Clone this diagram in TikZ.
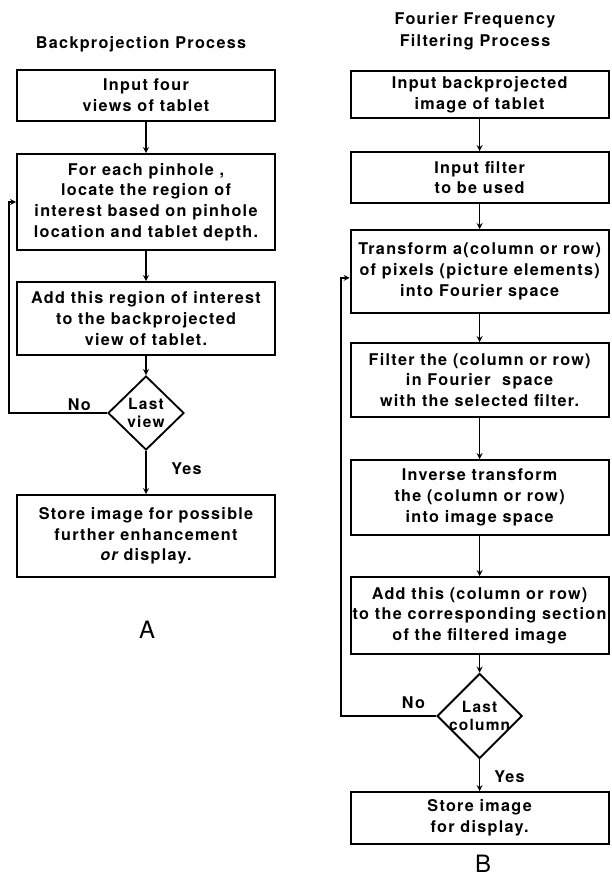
\documentclass[tikz,border=0pt]{standalone}
\usepackage{fontspec}
\setmainfont{TeX Gyre Heros}
\newfontfamily\flowfont{TeX Gyre Heros}[LetterSpace=8]
\usetikzlibrary{shapes.geometric,positioning}
\tikzstyle{stepbox} = [rectangle, minimum width=6.45cm, text centered, align=center, draw=black, line width=1.3pt, inner xsep=0.5pt, inner ysep=2pt, font=\flowfont\bfseries\fontsize{11.5}{14.7}\selectfont]
\tikzstyle{test} = [diamond, aspect=1, minimum width=1.9cm, minimum height=1.85cm, inner xsep=-0.4cm, inner ysep=0pt, align=center, draw=black, line width=1.3pt, font=\flowfont\bfseries\fontsize{11}{13}\selectfont]
\tikzstyle{flag} = [inner sep=0pt, font=\flowfont\bfseries\fontsize{11.5}{13}\selectfont]
\tikzstyle{heading} = [align=center, inner sep=0pt, font=\flowfont\bfseries\fontsize{11.5}{15.6}\selectfont]
\tikzstyle{tag} = [inner sep=0pt, font=\fontsize{17}{20}\selectfont]
\tikzstyle{arrow} = [line width=0.9pt,->,>=stealth]

\begin{document}
\begin{tikzpicture}
    \useasboundingbox (0,0) rectangle (15.275,-21.95);
    % A: backprojection
    \node (ttlA)[heading] at (3.525,-1.1) {Backprojection Process};
    \node (b1)[stepbox, minimum height=1.275cm] at (3.65,-2.3875) {Input four\\views of tablet};
    \node (b2)[stepbox, minimum height=2.4cm, below of=b1, yshift=-1.6625cm] {For each pinhole ,\\locate the region of\\interest based on pinhole\\location and tablet depth.};
    \node (b3)[stepbox, minimum height=1.825cm, below of=b2, yshift=-1.9125cm] {Add this region of interest\\to the backprojected\\view of tablet.};
    \node (d1)[test, below of=b3, yshift=-1.3625cm] {Last\\view};
    \node (b4)[stepbox, minimum height=2.05cm, below of=d1, yshift=-2.075cm] {Store image for possible\\further enhancement\\{\itshape or} display.};
    \node (noA)[flag, left=0.4cm of d1.west, yshift=0.2cm] {No};
    \node (yesA)[flag, below right=0.3cm and 0.625cm of d1.south] {Yes};
    \node (capA)[tag] at (3.675,-15.75) {A};
    \draw[arrow] (b1) -- (b2);
    \draw[arrow] (b2) -- (b3);
    \draw[arrow] (b3) -- (d1);
    \draw[arrow] (d1) -- (b4);
    \draw[arrow] (d1.west) -| ([xshift=-0.175cm]b2.west) -- (b2.west);

    % B: fourier filtering
    \node (ttlB)[heading] at (11.875,-0.775) {Fourier Frequency\\Filtering Process};
    \node (r1)[stepbox, minimum height=1.175cm] at (11.99,-2.3625) {Input backprojected\\image of tablet};
    \node (r2)[stepbox, minimum height=1.275cm, below of=r1, yshift=-1.075cm] {Input filter\\to be used};
    \node (r3)[stepbox, minimum height=2.075cm, below of=r2, yshift=-1.35cm] {Transform a(column or row)\\of pixels (picture elements)\\into Fourier space};
    \node (r4)[stepbox, minimum height=1.85cm, below of=r3, yshift=-1.7125cm] {Filter the (column or row)\\in Fourier\ \ space\\with the selected filter.};
    \node (r5)[stepbox, minimum height=1.875cm, below of=r4, yshift=-1.9375cm] {Inverse transform\\the (column or row)\\into image space};
    \node (r6)[stepbox, minimum height=1.925cm, below of=r5, yshift=-1.95cm] {Add this (column or row)\\to the corresponding section\\of the filtered image};
    \node (d2)[test, minimum width=2.125cm, minimum height=2.125cm, below of=r6, yshift=-1.5125cm] {Last\\column};
    \node (r7)[stepbox, minimum height=1.3cm, below of=d2, yshift=-1.55cm] {Store image\\for display.};
    \node (noB)[flag, left=0.275cm of d2.west, yshift=0.325cm] {No};
    \node (yesB)[flag, below right=0.275cm and 0.36cm of d2.south] {Yes};
    \node (capB)[tag] at (12.075,-21.6) {B};
    \draw[arrow] (r1) -- (r2);
    \draw[arrow] (r2) -- (r3);
    \draw[arrow] (r3) -- (r4);
    \draw[arrow] (r4) -- (r5);
    \draw[arrow] (r5) -- (r6);
    \draw[arrow] (r6) -- (d2);
    \draw[arrow] (d2) -- (r7);
    \draw[arrow] (d2.west) -| ([xshift=-0.215cm,yshift=-0.16cm]r3.west) -- ([yshift=-0.16cm]r3.west);
  \end{tikzpicture}
\end{document}
